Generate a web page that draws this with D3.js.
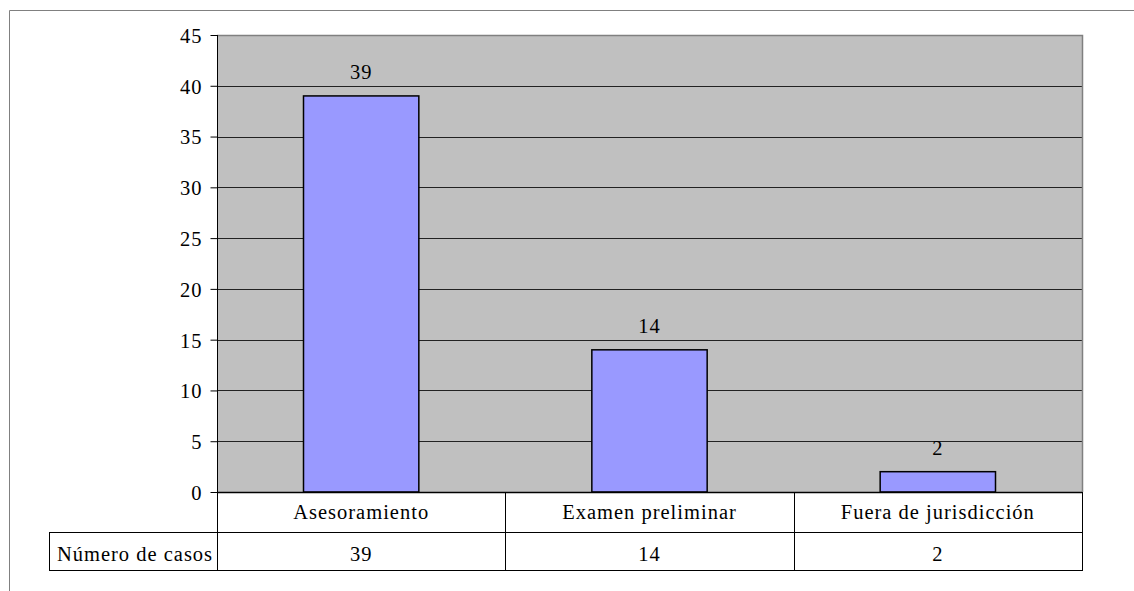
<!DOCTYPE html>
<html>
<head>
<meta charset="utf-8">
<script src="https://cdn.jsdelivr.net/npm/d3@7"></script>
<style>
  html, body { margin: 0; padding: 0; background: #fff; }
  svg { display: block; }
</style>
</head>
<body>
<svg id="chart" width="1134" height="591"></svg>
<script>
// Case counts by category
const categories = ["Asesoramiento", "Examen preliminar", "Fuera de jurisdicción"];
const casos = [39, 14, 2];
const seriesName = "Número de casos";
const yTicks = [0, 5, 10, 15, 20, 25, 30, 35, 40, 45];

const FONT = "Liberation Serif";
const FS = 20.5;
const LS = 1;

const svg = d3.select("#chart");
const W = 1134, H = 591;

// Plot area geometry
const plot = { left: 217, right: 1082, top: 35, bottom: 492 };
const rowH1 = 40, rowH2 = 38;
const labelLeft = 49;

// Shared text style: serif, slightly tracked
const label = sel => sel
  .attr("font-family", FONT)
  .attr("font-size", FS)
  .attr("letter-spacing", LS)
  .attr("fill", "#000");

// Outer frame (top and left edges)
svg.append("path")
  .attr("d", `M9.5,${H} V10.5 H${W}`)
  .attr("fill", "none").attr("stroke", "#808080").attr("stroke-width", 1);

const x = d3.scaleBand().domain(categories).range([plot.left, plot.right]).paddingInner(0).paddingOuter(0);
const y = d3.scaleLinear().domain([0, 45]).range([plot.bottom, plot.top]);

// Plot background
svg.append("rect")
  .attr("x", plot.left).attr("y", plot.top)
  .attr("width", plot.right - plot.left).attr("height", plot.bottom - plot.top)
  .attr("fill", "#c0c0c0");

// Gridlines
svg.append("g").selectAll("line").data(yTicks.filter(d => d > 0 && d < 45)).join("line")
  .attr("x1", plot.left).attr("x2", plot.right)
  .attr("y1", d => Math.round(y(d)) + 0.5).attr("y2", d => Math.round(y(d)) + 0.5)
  .attr("stroke", "#222").attr("stroke-width", 1);

// Plot border top/right
svg.append("path")
  .attr("d", `M${plot.left},${plot.top + 0.5} H${plot.right + 0.5} V${plot.bottom}`)
  .attr("fill", "none").attr("stroke", "#808080").attr("stroke-width", 1.5);

// Bars
const barW = x.bandwidth() * 0.4;
svg.append("g").selectAll("rect").data(categories).join("rect")
  .attr("x", d => x(d) + (x.bandwidth() - barW) / 2)
  .attr("y", (d, i) => y(casos[i]))
  .attr("width", barW)
  .attr("height", (d, i) => y(0) - y(casos[i]))
  .attr("fill", "#9999ff")
  .attr("stroke", "#000").attr("stroke-width", 1.5);

// Value labels
svg.append("g").selectAll("text").data(categories).join("text")
  .attr("x", d => x(d) + x.bandwidth() / 2)
  .attr("y", (d, i) => y(casos[i]) - 16.5)
  .attr("text-anchor", "middle")
  .call(label)
  .text((d, i) => casos[i]);

// Y axis
const yAxis = d3.axisLeft(y).tickValues(yTicks).tickSize(7).tickPadding(8);
const gy = svg.append("g").attr("transform", `translate(${plot.left + 0.5},0)`).call(yAxis)
  .attr("font-family", FONT).attr("font-size", FS);
gy.select(".domain").attr("stroke", "#000").attr("d", `M0,${plot.top}V${plot.bottom}`);
gy.selectAll(".tick line").attr("stroke", "#000");
gy.selectAll(".tick text").call(label).attr("dy", "0.36em");

// Data table below the axis
const t = svg.append("g").attr("fill", "none").attr("stroke", "#000").attr("stroke-width", 1);
const r1 = plot.bottom, r2 = plot.bottom + rowH1, r3 = plot.bottom + rowH1 + rowH2;
t.append("line").attr("x1", plot.left).attr("x2", plot.right).attr("y1", r1 + 0.5).attr("y2", r1 + 0.5).attr("stroke-width", 1.5);
t.append("line").attr("x1", labelLeft).attr("x2", plot.right).attr("y1", r2 + 0.5).attr("y2", r2 + 0.5);
t.append("line").attr("x1", labelLeft).attr("x2", plot.right).attr("y1", r3 + 0.5).attr("y2", r3 + 0.5);
t.append("line").attr("x1", labelLeft + 0.5).attr("x2", labelLeft + 0.5).attr("y1", r2).attr("y2", r3 + 1);
t.append("line").attr("x1", plot.left + 0.5).attr("x2", plot.left + 0.5).attr("y1", r1).attr("y2", r3 + 1);
categories.forEach(c => {
  const xr = Math.round(x(c) + x.bandwidth()) + 0.5;
  t.append("line").attr("x1", xr).attr("x2", xr).attr("y1", r1).attr("y2", r3 + 1);
});

// Category names
svg.append("g").selectAll("text").data(categories).join("text")
  .attr("x", d => x(d) + x.bandwidth() / 2)
  .attr("y", r1 + 27)
  .attr("text-anchor", "middle")
  .call(label)
  .text(d => d);

// Row label and values
svg.append("text")
  .attr("x", (labelLeft + plot.left) / 2 + 2).attr("y", r2 + 29)
  .attr("text-anchor", "middle")
  .call(label).text(seriesName);
svg.append("g").selectAll("text").data(categories).join("text")
  .attr("x", d => x(d) + x.bandwidth() / 2)
  .attr("y", r2 + 29)
  .attr("text-anchor", "middle")
  .call(label)
  .text((d, i) => casos[i]);
</script>
</body>
</html>
